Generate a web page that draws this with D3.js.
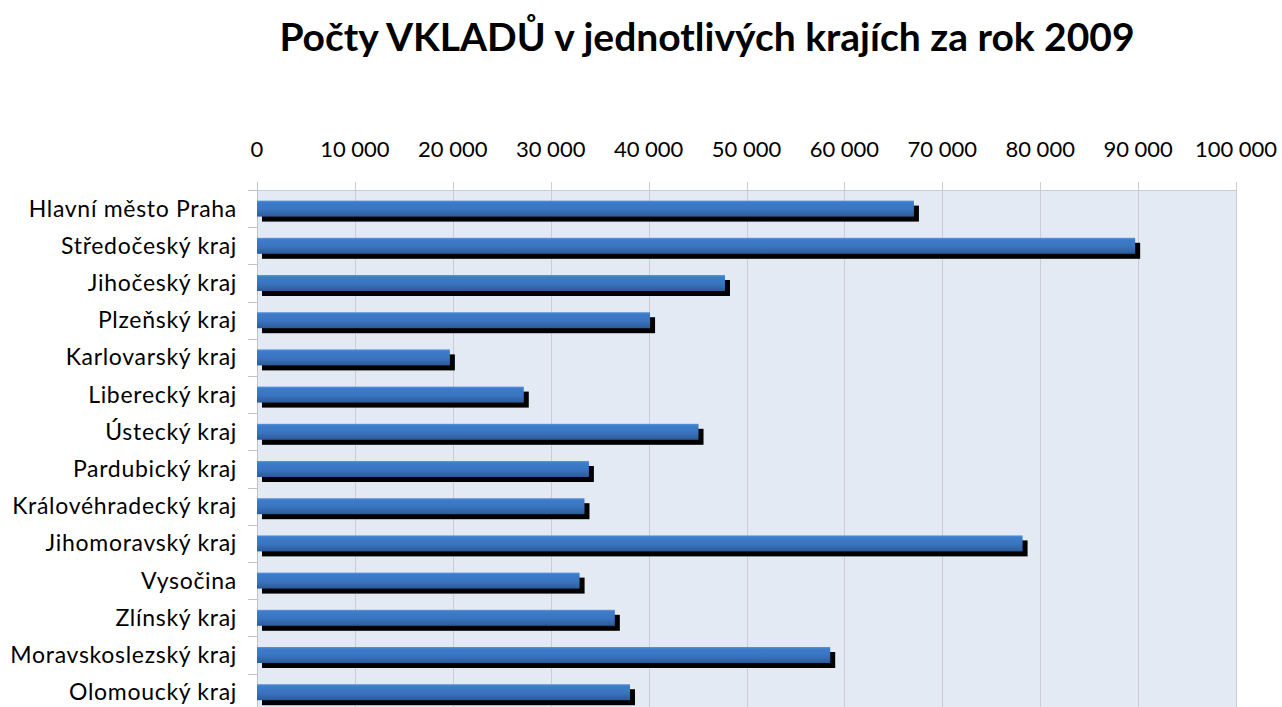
<!DOCTYPE html>
<html>
<head>
<meta charset="utf-8">
<script src="https://cdn.jsdelivr.net/npm/d3@7"></script>
<style>
    body { margin: 0; background: #ffffff; }
    svg { display: block; font-family: Lato, "Open Sans", sans-serif; }
</style>
</head>
<body>
<svg></svg>
<script>
// Počty vkladů podle krajů, 2009
var kraje = ["Hlavní město Praha", "Středočeský kraj", "Jihočeský kraj", "Plzeňský kraj",
    "Karlovarský kraj", "Liberecký kraj", "Ústecký kraj", "Pardubický kraj",
    "Královéhradecký kraj", "Jihomoravský kraj", "Vysočina", "Zlínský kraj",
    "Moravskoslezský kraj", "Olomoucký kraj"];
var vklady = [67100, 89700, 47800, 40150, 19700, 27250, 45100, 33900,
    33450, 78200, 32950, 36550, 58550, 38100];
var tickValues = [0, 10000, 20000, 30000, 40000, 50000, 60000, 70000, 80000, 90000, 100000];
var title = "Počty VKLADŮ v jednotlivých krajích za rok 2009";

var svgWidth = 1282, svgHeight = 707;
// note: "top" is taken by window.top, so plotTop
var plotLeft = 257, plotRight = 1236, plotTop = 190;
var step = 37.2;

var svg = d3.select("svg")
    .attr("width", svgWidth)
    .attr("height", svgHeight);

var defs = svg.append("defs");
var grad = defs.append("linearGradient")
    .attr("id", "barGrad")
    .attr("x1", 0).attr("y1", 0).attr("x2", 0).attr("y2", 1);
grad.append("stop").attr("offset", "0%").attr("stop-color", "#5b95dc");
grad.append("stop").attr("offset", "12%").attr("stop-color", "#3c7cca");
grad.append("stop").attr("offset", "55%").attr("stop-color", "#3a74bf");
grad.append("stop").attr("offset", "100%").attr("stop-color", "#2c5a98");

var blur = defs.append("filter").attr("id", "soft")
    .attr("x", "-5%").attr("y", "-30%").attr("width", "110%").attr("height", "160%");
blur.append("feGaussianBlur").attr("stdDeviation", 0.6);

var x = d3.scaleLinear()
    .domain([0, 100000])
    .range([plotLeft, plotRight]);

var y = d3.scaleBand()
    .domain(kraje)
    .range([plotTop, plotTop + step * kraje.length])
    .paddingInner(0.57)
    .paddingOuter(0.285);

// plot area background
svg.append("rect")
    .attr("x", plotLeft)
    .attr("y", plotTop)
    .attr("width", plotRight - plotLeft)
    .attr("height", svgHeight - plotTop)
    .attr("fill", "#e4eaf4");

// gridlines (they poke a bit above the plot like the axis ticks)
svg.selectAll("line.grid")
    .data(tickValues.slice(1))
    .enter()
    .append("line")
    .attr("class", "grid")
    .attr("x1", function (d) { return Math.round(x(d)) + 0.5; })
    .attr("x2", function (d) { return Math.round(x(d)) + 0.5; })
    .attr("y1", plotTop - 8)
    .attr("y2", svgHeight)
    .attr("stroke", "#c9ced6")
    .attr("stroke-width", 1);

// top border of plot
svg.append("line")
    .attr("x1", plotLeft).attr("x2", plotRight + 1)
    .attr("y1", plotTop + 0.5).attr("y2", plotTop + 0.5)
    .attr("stroke", "#c9ced6");

// left axis line and category separator ticks
svg.append("line")
    .attr("x1", plotLeft + 0.5).attr("x2", plotLeft + 0.5)
    .attr("y1", plotTop - 8).attr("y2", svgHeight)
    .attr("stroke", "#c0c4ca");

svg.selectAll("line.sep")
    .data(d3.range(kraje.length + 1))
    .enter()
    .append("line")
    .attr("class", "sep")
    .attr("x1", plotLeft - 9).attr("x2", plotLeft)
    .attr("y1", function (i) { return Math.round(plotTop + i * step) + 0.5; })
    .attr("y2", function (i) { return Math.round(plotTop + i * step) + 0.5; })
    .attr("stroke", "#c0c4ca");

// top axis labels
var fmt = d3.formatLocale({ decimal: ",", thousands: "\u00a0", grouping: [3], currency: ["", ""] }).format(",d");

svg.selectAll("text.tick")
    .data(tickValues)
    .enter()
    .append("text")
    .attr("class", "tick")
    .attr("x", function (d) { return x(d); })
    .attr("y", 157)
    .attr("text-anchor", "middle")
    .attr("font-size", 22)
    .attr("fill", "#000")
    .text(function (d) { return fmt(d); });

// shadow bars
svg.selectAll("rect.shadow")
    .data(vklady)
    .enter()
    .append("rect")
    .attr("class", "shadow")
    .attr("x", plotLeft + 5)
    .attr("y", function (d, i) { return y(kraje[i]) + 5; })
    .attr("width", function (d) { return x(d) - plotLeft; })
    .attr("height", y.bandwidth())
    .attr("fill", "#000")
    .attr("filter", "url(#soft)");

// blue bars
svg.selectAll("rect.bar")
    .data(vklady)
    .enter()
    .append("rect")
    .attr("class", "bar")
    .attr("x", plotLeft)
    .attr("y", function (d, i) { return y(kraje[i]); })
    .attr("width", function (d) { return x(d) - plotLeft; })
    .attr("height", y.bandwidth())
    .attr("fill", "url(#barGrad)");

// category labels - a bit wider than Lato normally is, to look like the original font
svg.selectAll("text.kraj")
    .data(kraje)
    .enter()
    .append("text")
    .attr("class", "kraj")
    .attr("x", 237)
    .attr("y", function (d) { return y(d) + y.bandwidth() / 2 + 8; })
    .attr("text-anchor", "end")
    .attr("font-size", 23)
    .attr("letter-spacing", 0.7)
    .attr("fill", "#000")
    .text(function (d) { return d; });

// title
svg.append("text")
    .attr("x", 707)
    .attr("y", 51)
    .attr("text-anchor", "middle")
    .attr("font-size", 39)
    .attr("font-weight", "bold")
    .attr("fill", "#000")
    .text(title);
</script>
</body>
</html>
